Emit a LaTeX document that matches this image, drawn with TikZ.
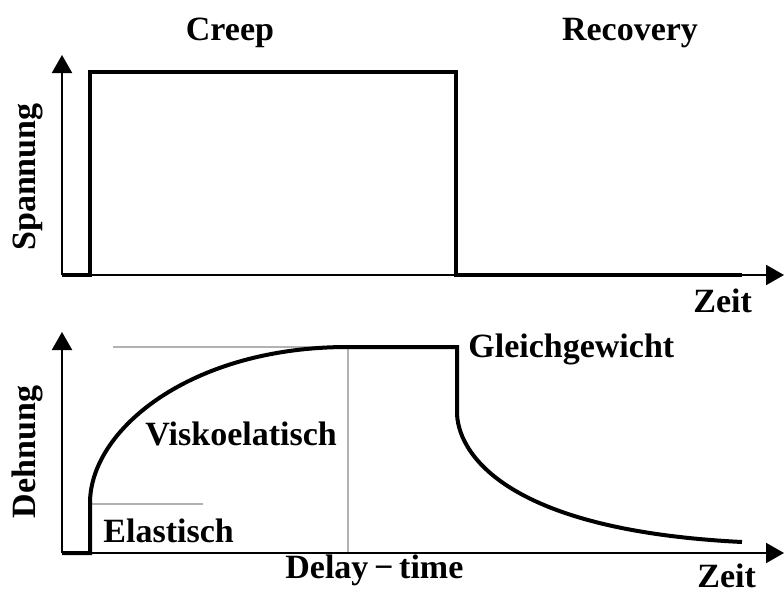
\documentclass[tikz,border=0pt]{standalone}
\usepackage{fontspec}
\setmainfont{Liberation Serif}
\usetikzlibrary{arrows.meta}
\tikzset{
axis/.style={line width=1pt, -{Triangle[length=9pt,width=10pt]}},
signal/.style={line width=2pt, line join=miter},
helper/.style={line width=0.7pt, gray!60},
lbl/.style={font=\fontsize{17}{20}\selectfont\bfseries, inner sep=0pt}
}

\begin{document}
\begin{tikzpicture}[x=0.5pt, y=-0.5pt]
	\useasboundingbox (0,0) rectangle (784,596);
	% Spannung
	\coordinate (so) at (62,275);
	\coordinate (sx) at (784,275);
	\coordinate (sy) at (62,55);
	\coordinate (s1) at (90,275);
	\coordinate (s2) at (90,72);
	\coordinate (s3) at (456,72);
	\coordinate (s4) at (456,275);
	\coordinate (s5) at (742,275);
	\draw[axis] (so) -- (sx);
	\draw[axis] (so) -- (sy);
	\draw[signal] (so) -- (s1) -- (s2) -- (s3) -- (s4) -- (s5);
	\node[lbl, anchor=base] (creep) at (230,40) {Creep};
	\node[lbl, anchor=base] (recovery) at (630,40) {Recovery};
	\node[lbl, anchor=base west] (zeit1) at (693,312) {Zeit};
	\node[lbl, anchor=base, rotate=90] (spannung) at (35,177) {Spannung};
	% Dehnung
	\coordinate (do) at (62,553);
	\coordinate (dx) at (784,553);
	\coordinate (dy) at (62,332);
	\coordinate (d1) at (90,553);
	\coordinate (d2) at (90,503);
	\coordinate (d3) at (348,347);
	\coordinate (d4) at (457,347);
	\coordinate (d5) at (457,412);
	\coordinate (d6) at (742,542);
	\coordinate (e1) at (92,504);
	\coordinate (e2) at (203,504);
	\coordinate (g1) at (113,347);
	\coordinate (t1) at (348,553);
	\draw[helper] (e1) -- (e2);
	\draw[helper] (g1) -- (d3) -- (t1);
	\draw[axis] (do) -- (dx);
	\draw[axis] (do) -- (dy);
	\draw[signal] (do) -- (d1) -- (d2) .. controls (90,430) and (190,347) .. (d3)
		-- (d4) -- (d5) .. controls (457,450) and (500,530) .. (d6);
	\node[lbl, anchor=base west] (gleich) at (468,357) {Gleichgewicht};
	\node[lbl, anchor=base west] (visko) at (145,445) {Viskoelatisch};
	\node[lbl, anchor=base west] (elast) at (103,542) {Elastisch};
	\node[lbl, anchor=base west] (delay) at (285,578) {Delay\,−\,time};
	\node[lbl, anchor=base west] (zeit2) at (697,587) {Zeit};
	\node[lbl, anchor=base, rotate=90] (dehnung) at (35,452) {Dehnung};
\end{tikzpicture}
\end{document}
